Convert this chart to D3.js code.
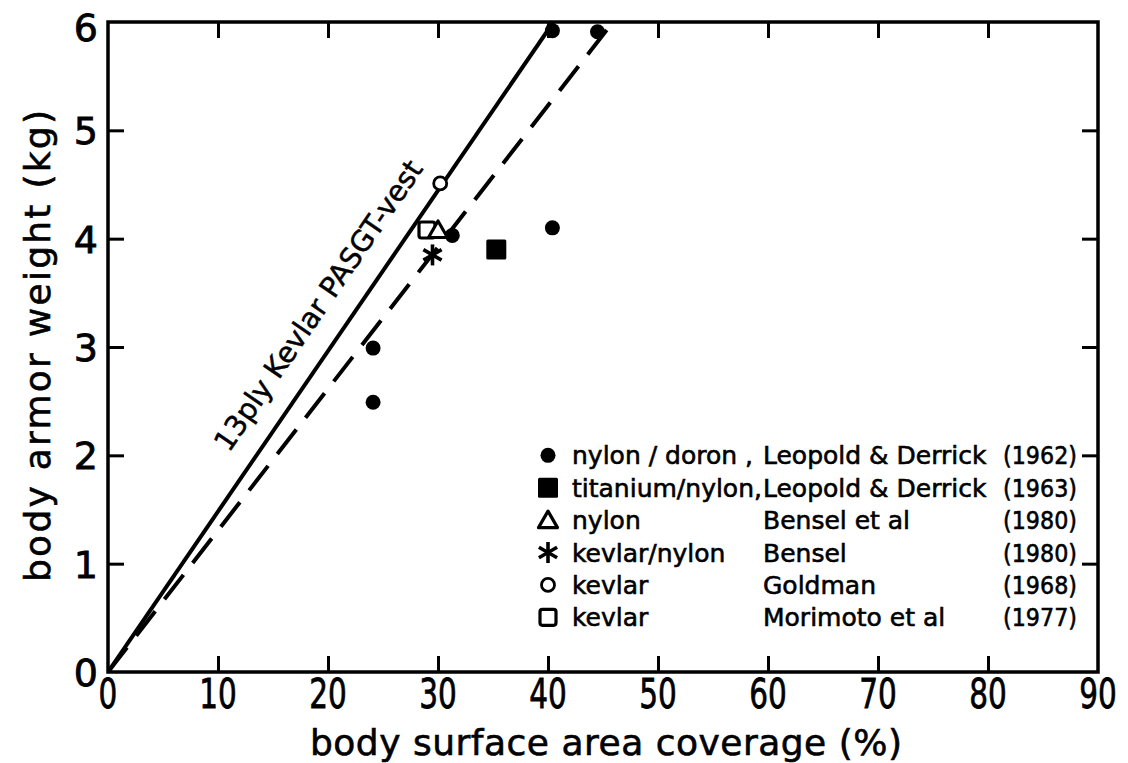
<!DOCTYPE html>
<html><head><meta charset="utf-8">
<script src="https://cdn.jsdelivr.net/npm/d3@7"></script>
<style>body{margin:0;background:#fff}svg{display:block}text{font-family:"DejaVu Sans",sans-serif;fill:#000}</style>
</head><body>
<svg id="c" width="1128" height="763"></svg>
<script>
const xTicks = [0,10,20,30,40,50,60,70,80,90];
const yTicks = [0,1,2,3,4,5,6];
const nylonDoron = [[40.4,5.92],[44.5,5.91],[31.3,4.03],[40.4,4.1],[24.1,2.99],[24.1,2.49]];
const titaniumNylon = [[35.3,3.9]];
const nylonBensel = [[30.0,4.08]];
const kevlarNylon = [[29.5,3.85]];
const kevlarGoldman = [[30.2,4.51]];
const kevlarMorimoto = [[29.0,4.08]];
const solidLine = [[0,0],[40.5,6]];
const dashedLine = [[0,0],[45.9,6]];
const lineLabel = "13ply Kevlar PASGT-vest";
const lineLabelAt = [11.0,2.02];
const legendRows = [
  {sym:"dot", a:"nylon / doron ,", b:"Leopold & Derrick", y:"(1962)"},
  {sym:"fsq", a:"titanium/nylon,", b:"Leopold & Derrick", y:"(1963)"},
  {sym:"tri", a:"nylon", b:"Bensel et al", y:"(1980)"},
  {sym:"star", a:"kevlar/nylon", b:"Bensel", y:"(1980)"},
  {sym:"ocirc", a:"kevlar", b:"Goldman", y:"(1968)"},
  {sym:"osq", a:"kevlar", b:"Morimoto et al", y:"(1977)"}
];

const L=108, R=1098, T=22, B=672;
const x = d3.scaleLinear().domain([0,90]).range([L,R]);
const y = d3.scaleLinear().domain([0,6]).range([B,T]);
const svg = d3.select("#c");

svg.append("clipPath").attr("id","clip").append("rect").attr("x",L).attr("y",T).attr("width",R-L).attr("height",B-T);

// inward ticks on all four sides
const tl = 16;
function styleTicks(g){g.select(".domain").remove();g.selectAll("line").attr("stroke","#000").attr("stroke-width",3);}
svg.append("g").attr("transform",`translate(0,${B})`).call(d3.axisTop(x).tickValues(xTicks.slice(1,-1)).tickSize(tl).tickFormat("")).call(styleTicks);
svg.append("g").attr("transform",`translate(0,${T})`).call(d3.axisBottom(x).tickValues(xTicks.slice(1,-1)).tickSize(tl).tickFormat("")).call(styleTicks);
svg.append("g").attr("transform",`translate(${L},0)`).call(d3.axisRight(y).tickValues(yTicks.slice(1,-1)).tickSize(tl).tickFormat("")).call(styleTicks);
svg.append("g").attr("transform",`translate(${R},0)`).call(d3.axisLeft(y).tickValues(yTicks.slice(1,-1)).tickSize(tl).tickFormat("")).call(styleTicks);

// frame
svg.append("rect").attr("x",L).attr("y",T).attr("width",R-L).attr("height",B-T).attr("fill","none").attr("stroke","#000").attr("stroke-width",3.5);

// tick labels
svg.append("g").selectAll("text").data(xTicks).join("text")
  .attr("transform",d=>`translate(${x(d)},708) scale(0.72,1)`).attr("text-anchor","middle")
  .attr("font-family","DejaVu Sans Condensed, DejaVu Sans").attr("font-size",41)
  .attr("stroke","#000").attr("stroke-width",0.8).text(d=>d);
svg.append("g").selectAll("text").data(yTicks).join("text")
  .attr("x",L-10).attr("y",d=>y(d)+14+(d===6?5:0)).attr("text-anchor","end")
  .attr("font-family","DejaVu Sans Condensed, DejaVu Sans").attr("font-size",38)
  .attr("stroke","#000").attr("stroke-width",0.8).text(d=>d);

// axis titles
svg.append("text").attr("x",606).attr("y",755).attr("text-anchor","middle").attr("font-size",36)
  .attr("textLength",592).attr("lengthAdjust","spacing").attr("stroke","#000").attr("stroke-width",0.6).text("body surface area coverage (%)");
svg.append("text").attr("transform",`translate(50,346) rotate(-90)`).attr("text-anchor","middle").attr("font-size",36)
  .attr("textLength",472).attr("lengthAdjust","spacing").attr("stroke","#000").attr("stroke-width",0.6).text("body armor weight (kg)");

// lines
const line = d3.line().x(d=>x(d[0])).y(d=>y(d[1]));
const pg = svg.append("g").attr("clip-path","url(#clip)");
pg.append("path").datum(solidLine).attr("d",line).attr("fill","none").attr("stroke","#000").attr("stroke-width",4);
pg.append("path").datum(dashedLine).attr("d",line).attr("fill","none").attr("stroke","#000").attr("stroke-width",4).attr("stroke-dasharray","31,15");

// line label, parallel to solid line
const ang = Math.atan2(y(solidLine[0][1])-y(solidLine[1][1]), x(solidLine[1][0])-x(solidLine[0][0]))*180/Math.PI;
svg.append("text").attr("transform",`translate(${x(lineLabelAt[0])},${y(lineLabelAt[1])}) rotate(${-ang})`)
  .attr("font-size",28.5).attr("stroke","#000").attr("stroke-width",0.5).text(lineLabel);

// symbols
function drawSym(g, type, cx, cy){
  if(type==="dot") g.append("circle").attr("cx",cx).attr("cy",cy).attr("r",7.5).attr("fill","#000");
  else if(type==="fsq") g.append("rect").attr("x",cx-10).attr("y",cy-10).attr("width",20).attr("height",20).attr("rx",1.5).attr("fill","#000");
  else if(type==="tri") g.append("path").attr("d",`M${cx},${cy-9}L${cx+9.5},${cy+7.5}L${cx-9.5},${cy+7.5}Z`).attr("fill","#fff").attr("stroke","#000").attr("stroke-width",3.2).attr("stroke-linejoin","round");
  else if(type==="star"){
    const r=10.5;
    for(const a of [90,30,-30]){
      const rad=a*Math.PI/180;
      g.append("line").attr("x1",cx-r*Math.cos(rad)).attr("y1",cy-r*Math.sin(rad)).attr("x2",cx+r*Math.cos(rad)).attr("y2",cy+r*Math.sin(rad)).attr("stroke","#000").attr("stroke-width",3.6);
    }
  }
  else if(type==="ocirc") g.append("circle").attr("cx",cx).attr("cy",cy).attr("r",6.5).attr("fill","#fff").attr("stroke","#000").attr("stroke-width",2.8);
  else if(type==="osq") g.append("rect").attr("x",cx-8).attr("y",cy-8).attr("width",16).attr("height",16).attr("rx",2.5).attr("fill","#fff").attr("stroke","#000").attr("stroke-width",3.2);
}
const sg = svg.append("g");
const series = [["dot",nylonDoron],["fsq",titaniumNylon],["osq",kevlarMorimoto],["tri",nylonBensel],["star",kevlarNylon],["ocirc",kevlarGoldman]];
for(const [t,arr] of series) for(const d of arr) drawSym(sg,t,x(d[0]),y(d[1]));

// legend
const lg = svg.append("g");
legendRows.forEach((r,i)=>{
  const ly = y(2) + i*32.4;
  drawSym(lg, r.sym, 548, ly);
  const t = (xx,txt,anchor)=>lg.append("text").attr("x",xx).attr("y",ly+9).attr("font-size",25)
    .attr("text-anchor",anchor).attr("stroke","#000").attr("stroke-width",0.6).text(txt);
  t(572,r.a,"start"); t(763,r.b,"start");
  t(1077,r.y,"end").attr("textLength",74).attr("lengthAdjust","spacingAndGlyphs");
});
</script>
</body></html>
